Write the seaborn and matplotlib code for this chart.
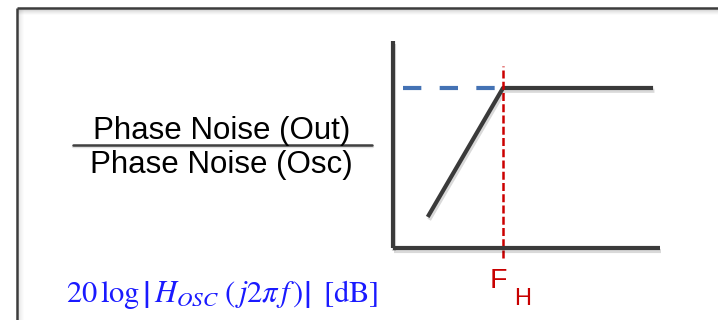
import matplotlib
matplotlib.use("Agg")
import matplotlib.pyplot as plt
import matplotlib.patheffects as pe
import seaborn as sns
import pandas as pd

sns.set_theme(style="white")
plt.rcParams["font.family"] = ["Liberation Sans", "DejaVu Sans"]
plt.rcParams["mathtext.fontset"] = "stix"

# Normalised log-frequency / magnitude coordinates of the asymptotic response
gain_x = [0.13, 0.412, 0.974]
gain_y = [0.15, 0.773, 0.773]
ref_x = [0.037, 0.412]
ref_y = [0.773, 0.773]
corner_x = 0.412
corner_label = "F"
corner_sub = "H"
numerator = "Phase Noise (Out)"
denominator = "Phase Noise (Osc)"
magnitude_label = (r"$20\,\log\left|\,H_{OSC}\;\left(\,j2\pi\, f\,\right)\right|"
                   r"\;\;[\mathrm{dB}]$")

W, H = 718, 320
fig = plt.figure(figsize=(W / 100, H / 100), dpi=100)
fig.patch.set_facecolor("white")


def fx(px):
    return px / W


def fy(py):
    return 1 - py / H


# Slide frame with a soft inner shadow
frame = fig.add_axes([0, 0, 1, 1])
frame.set_xlim(0, W)
frame.set_ylim(H, 0)
frame.axis("off")
for i, a in enumerate([0.10, 0.07, 0.05, 0.03, 0.02]):
    frame.plot([18, W], [10 + i, 10 + i], color="black", alpha=a, lw=1.2)
    frame.plot([19 + i, 19 + i], [9, H], color="black", alpha=a * 0.6, lw=1.2)
frame.plot([17, W], [8, 8], color="#3c3c3c", lw=1.8, solid_capstyle="butt")
frame.plot([17, 17], [8, H], color="#3c3c3c", lw=1.8, solid_capstyle="butt")

# Fraction bar between the two labels
frame.plot([73, 372], [146, 146], color="black", alpha=0.12, lw=2.5)
frame.plot([73, 372], [144.5, 144.5], color="#404040", lw=1.8)

shadow = [pe.SimpleLineShadow(offset=(1, -2), alpha=0.15, shadow_color="black"), pe.Normal()]

# Diagram axes
left, right, bottom, top = 393, 660, 248, 41
ax = fig.add_axes([fx(left), fy(bottom), (right - left) / W, (bottom - top) / H])
ax.set_xlim(0, 1)
ax.set_ylim(0, 1)
ax.set_facecolor("none")
for s in ["top", "right"]:
    ax.spines[s].set_visible(False)
for s in ["left", "bottom"]:
    ax.spines[s].set_color("#3a3a3a")
    ax.spines[s].set_linewidth(3.0)
    ax.spines[s].set_capstyle("butt")
    ax.spines[s].set_path_effects(shadow)
ax.set_xticks([])
ax.set_yticks([])

ref_df = pd.DataFrame({"x": ref_x, "y": ref_y})
sns.lineplot(data=ref_df, x="x", y="y", ax=ax, color="#4472b4", lw=3.0,
             linestyle=(0, (4.4, 4.4)), sort=False)

gain_df = pd.DataFrame({"x": gain_x, "y": gain_y})
sns.lineplot(data=gain_df, x="x", y="y", ax=ax, color="#3a3a3a", lw=3.0,
             sort=False, path_effects=shadow, solid_capstyle="butt")

ax.axvline(corner_x, ymin=-0.048, ymax=0.879, color="#cc0000", lw=1.8,
           linestyle=(0, (3.2, 1.3)), clip_on=False)
ax.set_xlabel("")
ax.set_ylabel("")

# Labels
fig.text(fx(221.5), fy(139), numerator, ha="center", va="baseline",
         fontsize=22.5, color="black")
fig.text(fx(221.5), fy(173), denominator, ha="center", va="baseline",
         fontsize=22.5, color="black")
fig.text(fx(66), fy(302), magnitude_label, ha="left", va="baseline",
         fontsize=22, color="#1a1aff")
fig.text(fx(490), fy(287.5), corner_label, ha="left", va="baseline",
         fontsize=20.5, color="#c80000")
fig.text(fx(514), fy(305), corner_sub, ha="left", va="baseline",
         fontsize=17, color="#c80000")

fig.savefig("out.png", dpi=100, facecolor="white")
